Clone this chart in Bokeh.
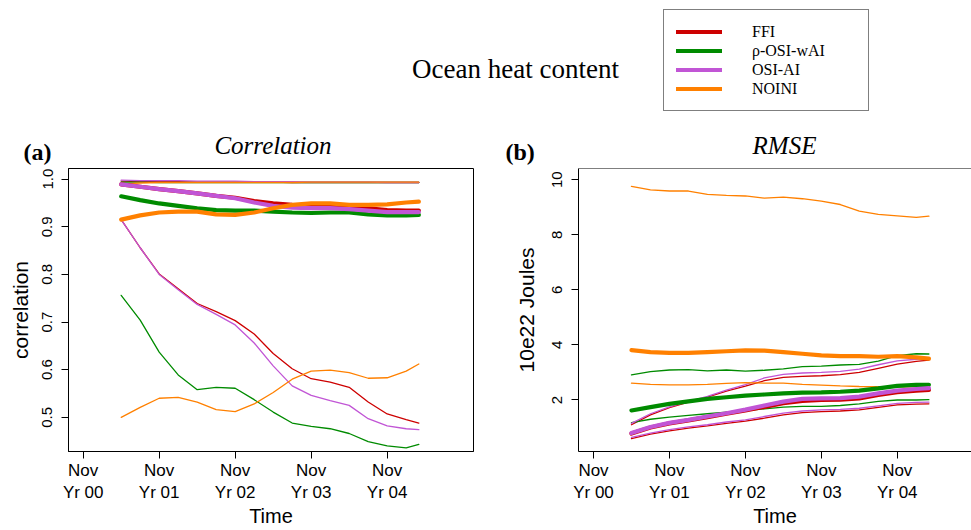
from bokeh.plotting import figure
from bokeh.models import (Range1d, FixedTicker, NumeralTickFormatter, Label, Legend,
                          LegendItem, Span)
from bokeh.layouts import column, row
from bokeh.embed import file_html
from bokeh.resources import INLINE

# ---------------- data ----------------
main_title = "Ocean heat content"
panel_tags = ["(a)", "(b)"]
panel_titles = ["Correlation", "RMSE"]
series_names = ["FFI", "\u03c1-OSI-wAI", "OSI-AI", "NOINI"]
series_colors = ["#CD0000", "#008B00", "#C155D5", "#FF8000"]

months = [6, 9, 12, 15, 18, 21, 24, 27, 30, 33, 36, 39, 42, 45, 48, 51, 53]
tick_months = [0, 12, 24, 36, 48]
tick_labels = ["Nov\nYr 00", "Nov\nYr 01", "Nov\nYr 02", "Nov\nYr 03", "Nov\nYr 04"]

# Correlation panel
corr_ticks = [0.5, 0.6, 0.7, 0.8, 0.9, 1.0]
corr_ffi_mean = [0.989, 0.984, 0.979, 0.975, 0.970, 0.965, 0.961, 0.954, 0.949, 0.946, 0.945, 0.945, 0.944, 0.939, 0.935, 0.934, 0.934]
corr_rho_mean = [0.964, 0.956, 0.949, 0.944, 0.939, 0.935, 0.934, 0.934, 0.932, 0.930, 0.929, 0.930, 0.930, 0.926, 0.924, 0.924, 0.925]
corr_osi_mean = [0.989, 0.984, 0.979, 0.975, 0.970, 0.965, 0.960, 0.951, 0.944, 0.940, 0.939, 0.939, 0.937, 0.934, 0.931, 0.931, 0.931]
corr_noini_mean = [0.915, 0.924, 0.930, 0.932, 0.932, 0.926, 0.925, 0.930, 0.939, 0.946, 0.949, 0.949, 0.946, 0.946, 0.947, 0.951, 0.953]

corr_ffi_hi = [0.996, 0.995, 0.995, 0.995, 0.994, 0.994, 0.994, 0.994, 0.994, 0.993, 0.993, 0.993, 0.993, 0.993, 0.993, 0.993, 0.993]
corr_rho_hi = [0.994, 0.994, 0.993, 0.993, 0.993, 0.993, 0.993, 0.993, 0.993, 0.993, 0.993, 0.993, 0.993, 0.993, 0.993, 0.993, 0.993]
corr_osi_hi = [0.998, 0.997, 0.997, 0.997, 0.996, 0.996, 0.996, 0.995, 0.995, 0.995, 0.994, 0.994, 0.994, 0.994, 0.993, 0.993, 0.993]
corr_noini_hi = [0.990, 0.992, 0.993, 0.993, 0.993, 0.993, 0.993, 0.993, 0.993, 0.993, 0.994, 0.994, 0.994, 0.994, 0.994, 0.994, 0.994]

corr_ffi_lo = [0.915, 0.856, 0.801, 0.770, 0.739, 0.722, 0.703, 0.675, 0.634, 0.602, 0.581, 0.574, 0.563, 0.532, 0.507, 0.495, 0.488]
corr_rho_lo = [0.756, 0.704, 0.637, 0.589, 0.558, 0.563, 0.561, 0.537, 0.511, 0.488, 0.481, 0.476, 0.466, 0.449, 0.440, 0.436, 0.443]
corr_osi_lo = [0.915, 0.856, 0.800, 0.768, 0.737, 0.716, 0.694, 0.656, 0.608, 0.566, 0.546, 0.535, 0.525, 0.497, 0.482, 0.476, 0.474]
corr_noini_lo = [0.500, 0.521, 0.540, 0.542, 0.532, 0.516, 0.512, 0.528, 0.552, 0.580, 0.597, 0.599, 0.594, 0.582, 0.583, 0.597, 0.612]

# RMSE panel (10e22 Joules)
rmse_ticks = [2, 4, 6, 8, 10]
rmse_ffi_mean = [0.78, 1.00, 1.15, 1.26, 1.38, 1.50, 1.62, 1.75, 1.88, 1.97, 2.00, 2.01, 2.06, 2.18, 2.28, 2.34, 2.37]
rmse_rho_mean = [1.62, 1.74, 1.86, 1.95, 2.04, 2.10, 2.16, 2.20, 2.24, 2.27, 2.28, 2.30, 2.34, 2.42, 2.51, 2.55, 2.55]
rmse_osi_mean = [0.80, 1.02, 1.17, 1.28, 1.40, 1.52, 1.65, 1.80, 1.94, 2.04, 2.06, 2.07, 2.12, 2.24, 2.34, 2.40, 2.43]
rmse_noini_mean = [3.81, 3.74, 3.71, 3.71, 3.74, 3.77, 3.80, 3.79, 3.74, 3.68, 3.62, 3.59, 3.59, 3.57, 3.59, 3.55, 3.50]

rmse_ffi_hi = [1.10, 1.46, 1.72, 1.92, 2.10, 2.32, 2.50, 2.70, 2.82, 2.86, 2.88, 2.92, 3.00, 3.15, 3.30, 3.40, 3.45]
rmse_rho_hi = [2.91, 3.03, 3.09, 3.10, 3.06, 3.09, 3.05, 3.08, 3.13, 3.21, 3.23, 3.27, 3.29, 3.41, 3.61, 3.68, 3.67]
rmse_osi_hi = [1.15, 1.50, 1.75, 1.95, 2.13, 2.36, 2.56, 2.80, 2.93, 2.98, 3.00, 3.04, 3.12, 3.28, 3.42, 3.48, 3.51]
rmse_noini_hi = [9.76, 9.63, 9.59, 9.59, 9.47, 9.43, 9.41, 9.33, 9.37, 9.31, 9.22, 9.10, 8.86, 8.74, 8.69, 8.63, 8.68]

rmse_ffi_lo = [0.60, 0.76, 0.88, 0.98, 1.06, 1.15, 1.23, 1.34, 1.46, 1.54, 1.58, 1.60, 1.64, 1.73, 1.82, 1.85, 1.86]
rmse_rho_lo = [1.18, 1.30, 1.38, 1.44, 1.50, 1.56, 1.61, 1.68, 1.74, 1.77, 1.77, 1.80, 1.86, 1.95, 2.00, 2.00, 2.01]
rmse_osi_lo = [0.64, 0.80, 0.92, 1.02, 1.10, 1.20, 1.28, 1.40, 1.52, 1.60, 1.64, 1.66, 1.70, 1.79, 1.88, 1.91, 1.92]
rmse_noini_lo = [2.61, 2.57, 2.55, 2.55, 2.57, 2.60, 2.63, 2.61, 2.61, 2.57, 2.54, 2.51, 2.49, 2.48, 2.48, 2.48, 2.47]

corr_thin = [[corr_ffi_hi, corr_ffi_lo], [corr_rho_hi, corr_rho_lo],
             [corr_osi_hi, corr_osi_lo], [corr_noini_hi, corr_noini_lo]]
corr_thick = [corr_ffi_mean, corr_rho_mean, corr_osi_mean, corr_noini_mean]
rmse_thin = [[rmse_ffi_hi, rmse_ffi_lo], [rmse_rho_hi, rmse_rho_lo],
             [rmse_osi_hi, rmse_osi_lo], [rmse_noini_hi, rmse_noini_lo]]
rmse_thick = [rmse_ffi_mean, rmse_rho_mean, rmse_osi_mean, rmse_noini_mean]

SERIF = "Liberation Serif"
SANS = "Liberation Sans"

HDR_H = 165
PANEL_H = 365

# ---------------- header (title, panel titles, legend) ----------------
hdr = figure(width=971, height=HDR_H, x_range=Range1d(0, 971), y_range=Range1d(0, HDR_H),
             output_backend="svg", toolbar_location=None, tools="",
             x_axis_location=None, y_axis_location=None, min_border=0)
hdr.outline_line_color = None
hdr.grid.visible = False
hdr.add_layout(Label(x=515, y=HDR_H - 68, text=main_title, text_align="center",
                     text_baseline="middle", text_font=SERIF,
                     text_font_size="27px", text_color="black"))
for tag, tx in zip(panel_tags, [23, 505]):
    hdr.add_layout(Label(x=tx, y=HDR_H - 151, text=tag, text_font=SERIF,
                         text_font_style="bold", text_font_size="24px",
                         text_baseline="middle", text_color="black"))
for ttl, tx in zip(panel_titles, [272.5, 784]):
    hdr.add_layout(Label(x=tx, y=HDR_H - 145, text=ttl, text_font=SERIF,
                         text_font_style="italic", text_font_size="25px",
                         text_align="center", text_baseline="middle",
                         text_color="black"))

items = []
for name, col, ys in zip(series_names, series_colors, corr_thick):
    # hidden copy of each series, used only as the legend's glyph source
    r = hdr.line(months, ys, line_color=col, line_width=4, line_cap="round", visible=False)
    items.append(LegendItem(label=name, renderers=[r]))
leg = Legend(items=items, location=(663, HDR_H - 111), margin=0, padding=12, spacing=0,
             glyph_width=46, glyph_height=19, label_height=19, label_width=104,
             label_standoff=30, label_text_font=SERIF, label_text_font_size="16px",
             label_text_color="black", border_line_color="black", border_line_width=1,
             background_fill_color="white", click_policy="none")
hdr.add_layout(leg)


def make_panel(width, left, right, xr, yr, yticks, yfmt, ylabel, thin, thick, lab_standoff):
    p = figure(width=width, height=PANEL_H, x_range=xr, y_range=yr,
               output_backend="svg", toolbar_location=None, tools="",
               min_border_left=left, min_border_right=right,
               min_border_top=3, min_border_bottom=75)
    p.grid.visible = False
    p.background_fill_color = "white"
    p.border_fill_color = "white"
    for col, pair in zip(series_colors, thin):
        for ys in pair:
            p.line(months, ys, line_color=col, line_width=1.3, line_cap="round")
    for col, ys in zip(series_colors, thick):
        p.line(months, ys, line_color=col, line_width=4.2, line_cap="round")

    xa = p.xaxis[0]
    xa.ticker = FixedTicker(ticks=tick_months)
    xa.major_label_overrides = {m: lab for m, lab in zip(tick_months, tick_labels)}
    xa.axis_label = "Time"
    ya = p.yaxis[0]
    ya.ticker = FixedTicker(ticks=yticks)
    if yfmt:
        ya.formatter = NumeralTickFormatter(format=yfmt)
    ya.axis_label = ylabel
    ya.major_label_orientation = "parallel"
    for ax in (xa, ya):
        ax.axis_line_color = "black"
        ax.major_tick_line_color = "black"
        ax.major_tick_out = 7
        ax.major_tick_in = 0
        ax.minor_tick_line_color = None
        ax.major_label_text_font = SANS
        ax.major_label_text_color = "black"
        ax.axis_label_text_font = SANS
        ax.axis_label_text_font_style = "normal"
        ax.axis_label_text_color = "black"
    xa.major_label_text_font_size = "17px"
    xa.major_label_standoff = 2
    xa.axis_label_text_font_size = "20px"
    xa.axis_label_standoff = 0
    ya.major_label_text_font_size = "15px"
    ya.major_label_standoff = 9
    ya.axis_label_text_font_size = "21px"
    ya.axis_label_standoff = lab_standoff
    return p


# ---------------- panel (a) ----------------
pa = make_panel(490, 68, 17, Range1d(-2.32, 61.63), Range1d(0.4282, 1.0224),
                corr_ticks, "0.0", "correlation", corr_thin, corr_thick, 8)
pa.outline_line_color = "black"
pa.outline_line_alpha = 1

# ---------------- panel (b) ----------------
pb = make_panel(481, 88, 0, Range1d(-2.37, 59.73), Range1d(0.129, 10.408),
                rmse_ticks, None, "10e22 Joules", rmse_thin, rmse_thick, 12)
pb.outline_line_color = None
pb.add_layout(Span(location=10.408, dimension="width", line_color="black", line_width=1))

layout = column(hdr, row(pa, pb))
open("out.html", "w").write(file_html(layout, INLINE))
